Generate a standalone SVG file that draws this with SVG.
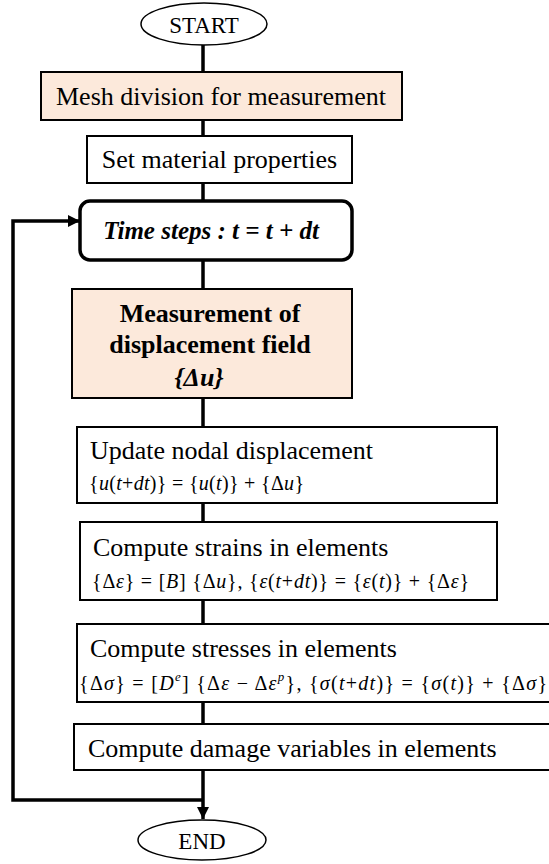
<svg xmlns="http://www.w3.org/2000/svg" width="549" height="864" viewBox="0 0 549 864">
<style>
text{font-family:"Liberation Serif","Times New Roman",serif;fill:#000}
.t{font-size:26px}
.b{font-weight:bold}
.i{font-style:italic}
.f{font-size:20px}
.box{fill:#fff;stroke:#000;stroke-width:2}
.peach{fill:#FCE9DB;stroke:#000;stroke-width:2}
.term{fill:#fff;stroke:#000;stroke-width:1.5}
.con{fill:none;stroke:#000;stroke-width:3.5}
</style>
<defs>
<marker id="ah" markerWidth="12" markerHeight="12" refX="10" refY="5" orient="auto" markerUnits="userSpaceOnUse" viewBox="0 0 10 10">
<path d="M0,0 L10,5 L0,10 z" fill="#000"/>
</marker>
</defs>
<rect width="549" height="864" fill="#fff"/>
<g id="connectors">
<line class="con" x1="203" y1="45" x2="203" y2="72"/>
<line class="con" x1="203" y1="120" x2="203" y2="136"/>
<line class="con" x1="203" y1="183" x2="203" y2="201"/>
<line class="con" x1="203" y1="260" x2="203" y2="289"/>
<line class="con" x1="203" y1="398" x2="203" y2="427"/>
<line class="con" x1="203" y1="503" x2="203" y2="522"/>
<line class="con" x1="203" y1="600" x2="203" y2="624"/>
<line class="con" x1="203" y1="702" x2="203" y2="724"/>
<path class="con" d="M203,770 V819" marker-end="url(#ah)"/>
<path class="con" d="M203,800 H13 V221 H80" marker-end="url(#ah)"/>
</g>
<g id="start">
<ellipse class="term" cx="204" cy="24" rx="63" ry="21"/>
<text class="t" x="204" y="33" text-anchor="middle" style="font-size:23px">START</text>
</g>
<g id="mesh">
<rect class="peach" x="41" y="72" width="361" height="48"/>
<text class="t" x="221" y="105" text-anchor="middle">Mesh division for measurement</text>
</g>
<g id="material">
<rect class="box" x="87" y="136" width="265" height="47"/>
<text class="t" x="219.5" y="168" text-anchor="middle">Set material properties</text>
</g>
<g id="timestep">
<rect x="80" y="201" width="272" height="59" rx="10" fill="#fff" stroke="#000" stroke-width="3.5"/>
<text class="t b i" x="211" y="239" text-anchor="middle" style="font-size:25px">Time steps : t = t + dt</text>
</g>
<g id="measurement">
<rect class="peach" x="72" y="289" width="280" height="109"/>
<text class="t b" x="210" y="322" text-anchor="middle">Measurement of</text>
<text class="t b" x="210" y="353" text-anchor="middle">displacement field</text>
<text class="t b i" x="199" y="386" text-anchor="middle">{Δu}</text>
</g>
<g id="update">
<rect class="box" x="77" y="427" width="420" height="76"/>
<text class="t" x="90" y="459">Update nodal displacement</text>
<text class="f" x="89" y="490" textLength="215" lengthAdjust="spacing">{<tspan class="i">u</tspan>(<tspan class="i">t</tspan>+<tspan class="i">dt</tspan>)} = {<tspan class="i">u</tspan>(<tspan class="i">t</tspan>)} + {Δ<tspan class="i">u</tspan>}</text>
</g>
<g id="strains">
<rect class="box" x="80" y="522" width="417" height="78"/>
<text class="t" x="93" y="556">Compute strains in elements</text>
<text class="f" x="92" y="588" textLength="377" lengthAdjust="spacing">{Δ<tspan class="i">ε</tspan>} = [<tspan class="i">B</tspan>] {Δ<tspan class="i">u</tspan>}, {<tspan class="i">ε</tspan>(<tspan class="i">t</tspan>+<tspan class="i">dt</tspan>)} = {<tspan class="i">ε</tspan>(<tspan class="i">t</tspan>)} + {Δ<tspan class="i">ε</tspan>}</text>
</g>
<g id="stresses">
<rect class="box" x="77" y="624" width="480" height="78"/>
<text class="t" x="90" y="657">Compute stresses in elements</text>
<text class="f" x="79" y="690" textLength="468" lengthAdjust="spacing">{Δ<tspan class="i">σ</tspan>} = [<tspan class="i">D</tspan><tspan class="i" dy="-9" font-size="13">e</tspan><tspan dy="9">] {Δ</tspan><tspan class="i">ε</tspan> − Δ<tspan class="i">ε</tspan><tspan class="i" dy="-9" font-size="13">p</tspan><tspan dy="9">}, {</tspan><tspan class="i">σ</tspan>(<tspan class="i">t</tspan>+<tspan class="i">dt</tspan>)} = {<tspan class="i">σ</tspan>(<tspan class="i">t</tspan>)} + {Δ<tspan class="i">σ</tspan>}</text>
</g>
<g id="damage">
<rect class="box" x="74" y="724" width="480" height="46"/>
<text class="t" x="88" y="757">Compute damage variables in elements</text>
</g>
<g id="end">
<ellipse class="term" cx="202" cy="840" rx="64" ry="20"/>
<text class="t" x="202" y="849" text-anchor="middle" style="font-size:23px">END</text>
</g>
</svg>
